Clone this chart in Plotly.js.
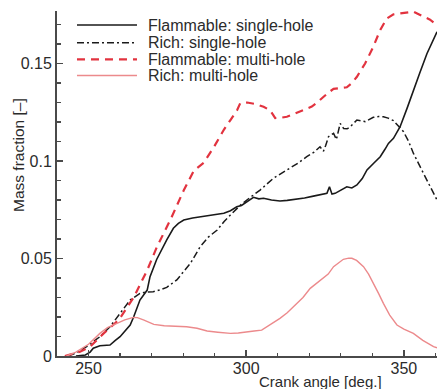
<!DOCTYPE html>
<html>
<head>
<meta charset="utf-8">
<script src="https://cdn.plot.ly/plotly-3.0.1.min.js"></script>
<style>
  html, body { margin: 0; padding: 0; background: #ffffff; }
  #chart { width: 437px; height: 389px; }
</style>
</head>
<body>
<div id="chart"></div>
<script>
// Series names (legend order)
const seriesNames = [
  "Flammable: single-hole",
  "Rich: single-hole",
  "Flammable: multi-hole",
  "Rich: multi-hole"
];

// Flammable mass fraction, single-hole injector
const flamSingleAngle = [246, 249, 250.5, 251.5, 253.6, 256.8, 258.5, 260, 263.2, 264.3, 266.3, 268.6, 269.5, 271.6, 274.8, 276.9, 278.5, 280.2, 283, 285.4, 288, 290.7, 292.9, 295, 297, 298.5, 300.3, 302.3, 304, 305.5, 308, 310.7, 313, 316, 318.5, 321.3, 323.5, 325.6, 326.4, 327.2, 328.2, 330, 331.9, 333.5, 335.1, 336.8, 338.3, 340.5, 342.5, 344, 345.1, 346.7, 348.8, 351, 353, 355, 357.3, 360.5];
const flamSingleValue = [0, 0.0005, 0.002, 0.004, 0.0053, 0.0056, 0.008, 0.0099, 0.0159, 0.020, 0.0287, 0.0338, 0.0407, 0.0495, 0.0595, 0.0655, 0.068, 0.0697, 0.0708, 0.0714, 0.072, 0.0728, 0.0732, 0.0745, 0.0765, 0.0772, 0.079, 0.0814, 0.0806, 0.0809, 0.080, 0.0795, 0.0798, 0.0803, 0.081, 0.082, 0.0826, 0.0834, 0.0868, 0.083, 0.0834, 0.0852, 0.0868, 0.0862, 0.0877, 0.091, 0.0954, 0.099, 0.1022, 0.106, 0.109, 0.1116, 0.1176, 0.127, 0.1364, 0.145, 0.155, 0.1663];

// Rich mass fraction, single-hole injector
const richSingleAngle = [243.5, 246, 249.4, 253.6, 256.8, 260, 263.2, 266.3, 268, 270.5, 272.5, 274.8, 276.5, 278, 280, 282.3, 285.4, 288, 290.8, 293, 295, 298.2, 301, 304.4, 308.6, 311, 313.9, 316.5, 319.2, 321.5, 323.4, 324.5, 325.2, 326.1, 327.7, 328.6, 329.8, 330.9, 332, 333, 335.1, 337.7, 340.3, 342, 343.5, 345, 346.7, 348.3, 349.9, 351.5, 353, 356.2, 358, 359.9, 360.5];
const richSingleValue = [0, 0.0015, 0.0048, 0.0099, 0.015, 0.0219, 0.0287, 0.0321, 0.0328, 0.033, 0.0338, 0.0352, 0.037, 0.039, 0.043, 0.0475, 0.056, 0.061, 0.0646, 0.069, 0.0723, 0.0774, 0.081, 0.0851, 0.0911, 0.0935, 0.0962, 0.099, 0.1022, 0.1045, 0.1073, 0.105, 0.108, 0.1125, 0.1142, 0.111, 0.1193, 0.1167, 0.1165, 0.1176, 0.121, 0.1202, 0.1224, 0.1228, 0.1227, 0.122, 0.1207, 0.118, 0.115, 0.110, 0.104, 0.0937, 0.088, 0.0817, 0.080];

// Flammable mass fraction, multi-hole injector
const flamMultiAngle = [242.5, 245, 247.3, 250.5, 254.8, 259.6, 264.3, 268.6, 271.7, 276, 280.2, 283.4, 286.5, 289.7, 292.9, 295, 297.1, 298.1, 300.3, 303, 305.5, 307.6, 309.2, 311, 312.9, 315, 317.1, 319, 320.8, 322.5, 324.5, 326, 327.7, 330, 331.9, 333.5, 335.1, 337.7, 340.3, 342.5, 344.6, 346.7, 348.8, 351, 353, 355, 356.2, 358.3, 360.5];
const flamMultiValue = [0, 0.001, 0.0022, 0.0048, 0.0116, 0.0185, 0.030, 0.044, 0.056, 0.070, 0.085, 0.095, 0.099, 0.107, 0.116, 0.121, 0.126, 0.1296, 0.130, 0.1292, 0.1278, 0.126, 0.122, 0.1222, 0.1227, 0.124, 0.1253, 0.1265, 0.1279, 0.130, 0.133, 0.135, 0.137, 0.1375, 0.1378, 0.140, 0.1432, 0.150, 0.1586, 0.1672, 0.1731, 0.1752, 0.1757, 0.1762, 0.1766, 0.175, 0.174, 0.1725, 0.1697];

// Rich mass fraction, multi-hole injector
const richMultiAngle = [243, 246, 250, 253.6, 256, 258.9, 261.5, 264.2, 265.5, 267.4, 270.7, 274, 276.9, 281.1, 284.4, 287.6, 291, 295, 297.5, 300.2, 302.5, 304.9, 307.6, 310.7, 313, 315, 318, 320.3, 322.5, 324.5, 326, 327.7, 329.5, 330.8, 332.5, 333.5, 335, 337.2, 338.8, 340.4, 342, 343.5, 345.5, 347.8, 350, 353, 356, 359.4, 360.5];
const richMultiValue = [0, 0.002, 0.006, 0.0116, 0.0145, 0.0168, 0.0185, 0.0198, 0.0197, 0.0185, 0.0162, 0.0155, 0.0152, 0.015, 0.0142, 0.0128, 0.0122, 0.0116, 0.0118, 0.0125, 0.0128, 0.0133, 0.0159, 0.0193, 0.0222, 0.0253, 0.030, 0.0347, 0.0375, 0.0398, 0.042, 0.0458, 0.048, 0.0496, 0.0502, 0.0501, 0.049, 0.0458, 0.042, 0.0373, 0.032, 0.027, 0.021, 0.0159, 0.0138, 0.0116, 0.008, 0.0048, 0.0042];

// Line styles per series
const styles = [
  { color: "#1a1a1a", width: 1.6, dash: "solid" },
  { color: "#1a1a1a", width: 1.5, dash: "7px,3px,2px,3px" },
  { color: "#e2333f", width: 2.2, dash: "8px,6px" },
  { color: "#ec8a8c", width: 1.4, dash: "solid" }
];

const xs = [flamSingleAngle, richSingleAngle, flamMultiAngle, richMultiAngle];
const ys = [flamSingleValue, richSingleValue, flamMultiValue, richMultiValue];

const traces = seriesNames.map((name, i) => ({
  type: "scatter",
  mode: "lines",
  name: name,
  x: xs[i],
  y: ys[i],
  line: { color: styles[i].color, width: styles[i].width, dash: styles[i].dash },
  showlegend: false,
  hoverinfo: "skip"
}));

const textFont = { family: "Liberation Sans, Arial, sans-serif", size: 16, color: "#2b2b2b" };
const axisColor = "#4a4a4a";

// Legend drawn as short line samples with labels in the upper-left corner
const legendRowsY = [0.9594, 0.9081, 0.860, 0.813];
const shapes = [];
const annotations = [];
seriesNames.forEach((name, i) => {
  shapes.push({
    type: "line", xref: "paper", yref: "paper",
    x0: 0.0526, x1: 0.2105, y0: legendRowsY[i], y1: legendRowsY[i],
    line: { color: styles[i].color, width: styles[i].width, dash: styles[i].dash }
  });
  annotations.push({
    xref: "paper", yref: "paper", x: 0.2342, y: legendRowsY[i],
    xanchor: "left", yanchor: "middle", showarrow: false,
    text: name, font: textFont
  });
});

annotations.push({
  xref: "paper", yref: "paper", x: 0.6947, y: -0.0725,
  xanchor: "center", yanchor: "middle", showarrow: false,
  text: "Crank angle [deg.]", font: Object.assign({}, textFont, { size: 15 })
});
annotations.push({
  xref: "paper", yref: "paper", x: -0.1026, y: 0.5826,
  xanchor: "center", yanchor: "middle", showarrow: false, textangle: -90,
  text: "Mass fraction [–]", font: Object.assign({}, textFont, { size: 15.5 })
});

const layout = {
  width: 437,
  height: 389,
  margin: { l: 57, r: 0, t: 11, b: 33 },
  paper_bgcolor: "#ffffff",
  plot_bgcolor: "#ffffff",
  showlegend: false,
  font: textFont,
  xaxis: {
    range: [240, 360.5],
    tick0: 250, dtick: 50,
    ticks: "inside", ticklen: 6, tickwidth: 1.5, tickcolor: axisColor,
    minor: { ticks: "inside", dtick: 10, ticklen: 3.5, tickwidth: 1.2, tickcolor: axisColor },
    showline: true, linecolor: axisColor, linewidth: 2,
    showgrid: false, zeroline: false,
    tickfont: textFont,
    ticklabelstandoff: -3
  },
  yaxis: {
    range: [0, 345 / 1950],
    tick0: 0, dtick: 0.05,
    tickvals: [0, 0.05, 0.1, 0.15],
    ticktext: ["0", "0.05", "0.1", "0.15"],
    ticks: "inside", ticklen: 6, tickwidth: 1.5, tickcolor: axisColor,
    minor: { ticks: "inside", dtick: 0.01, ticklen: 3.5, tickwidth: 1.2, tickcolor: axisColor },
    showline: true, linecolor: axisColor, linewidth: 2,
    showgrid: false, zeroline: false,
    tickfont: textFont,
    ticklabelstandoff: 0
  },
  shapes: shapes,
  annotations: annotations
};

Plotly.newPlot("chart", traces, layout, { displayModeBar: false, staticPlot: true });
</script>
</body>
</html>
